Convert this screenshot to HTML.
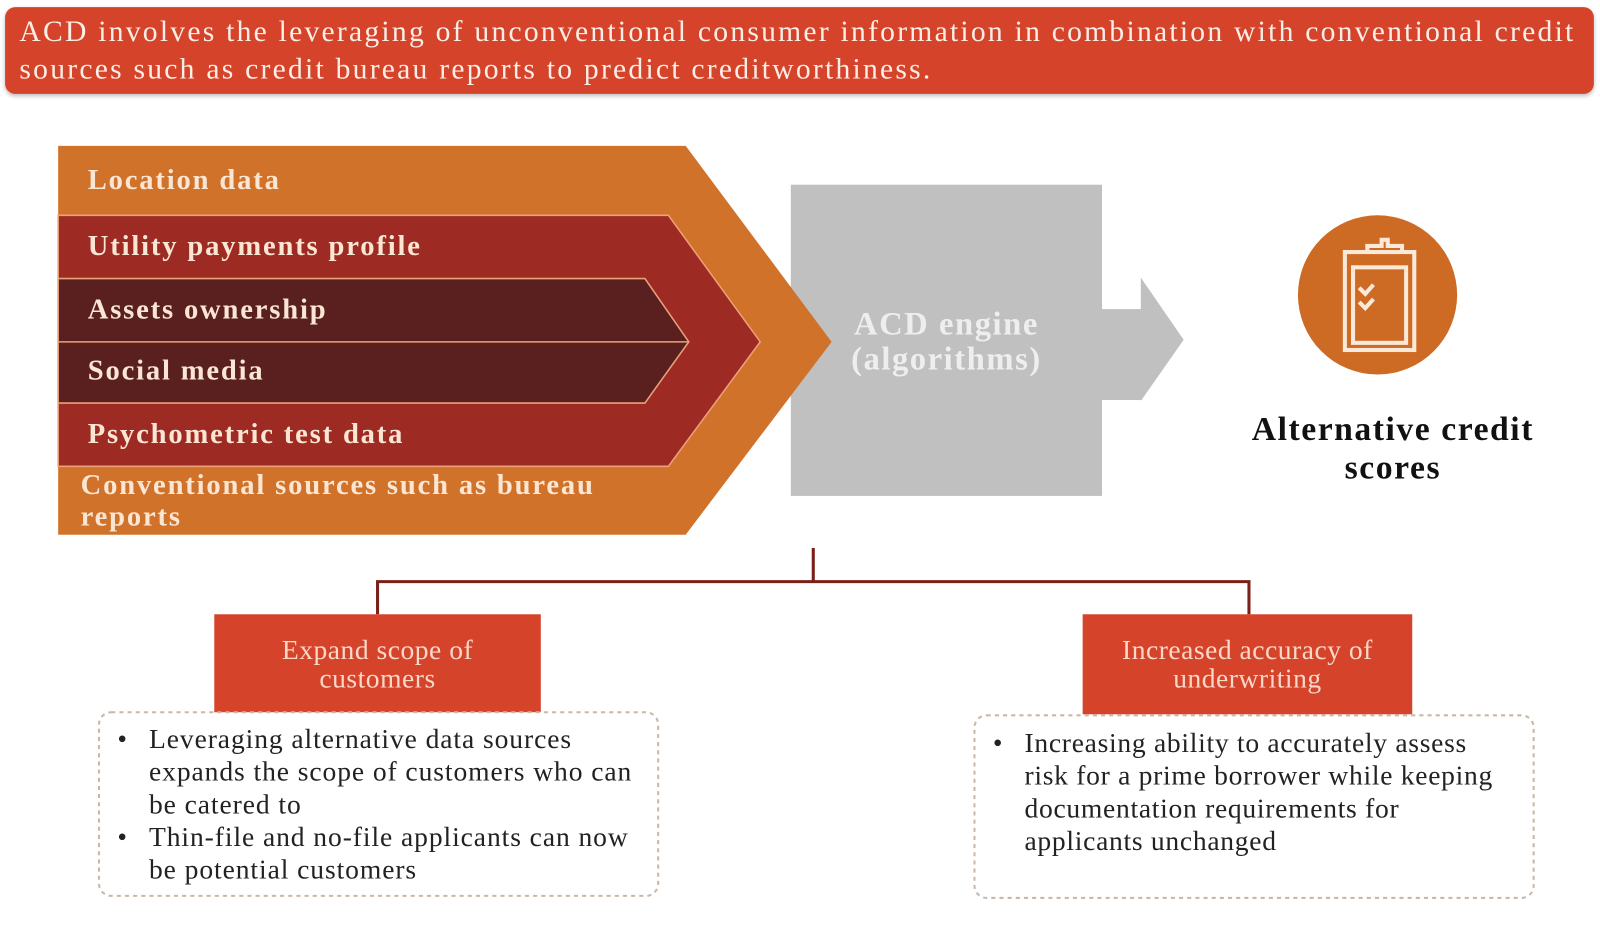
<!DOCTYPE html>
<html><head><meta charset="utf-8"><style>
body{margin:0;width:1600px;height:928px;background:#fff;position:relative;overflow:hidden;font-family:"Liberation Serif",serif}
#w{position:absolute;left:0;top:0;width:1568px;height:910px;transform:scale(1.0204);transform-origin:0 0}
.a{position:absolute}
.c{color:#fbe6d4;font-size:28px;font-weight:bold;letter-spacing:1.8px;white-space:nowrap}
</style></head><body><div id="w">
<div class="a" style="left:5px;top:7px;width:1557px;height:85px;background:#d5432a;border-radius:10px;box-shadow:0 2px 4px #bbb"></div>
<div class="a" style="left:19px;top:13px;width:1540px;color:#fbeee6;font-size:29px;letter-spacing:2.2px;line-height:37px;white-space:nowrap">ACD involves the leveraging of unconventional consumer information in combination with conventional credit<br>sources such as credit bureau reports to predict creditworthiness.</div>
<svg class="a" style="left:0;top:0" width="1568" height="910">
<rect x="775" y="181" width="305" height="305" fill="#c0c0c0"/>
<polygon points="1080,303 1118,303 1118,272 1160,333 1118,393 1118,392 1080,392" fill="#c0c0c0"/>
<polygon points="57,143 672,143 815,335 672,524 57,524" fill="#d1722a"/>
<polygon points="57,211 655,211 745,335 655,457 57,457" fill="#9e2a24" stroke="#e9a27a" stroke-width="1.5"/>
<polygon points="57,273 632,273 675,335 632,395 57,395" fill="#5a2020" stroke="#e9a27a" stroke-width="1.5"/>
<line x1="57" y1="335" x2="675" y2="335" stroke="#e9a27a" stroke-width="1.5"/>
<circle cx="1350" cy="289" r="78" fill="#cd6a24"/>
<g fill="none" stroke="#fbe8d8" stroke-width="4">
<rect x="1318" y="247" width="68" height="96"/>
<rect x="1326" y="262" width="52" height="74"/>
<path d="M1340,247 v-6 h14 v-6 h6 v6 h14 v6"/>
<path d="M1332,282 l6,6 l8,-9 M1332,296 l6,6 l8,-9"/>
</g>
<path d="M797,537 V570 M370,602 V570 H1224 V602" fill="none" stroke="#7a2019" stroke-width="3"/>
<rect x="210" y="602" width="320" height="96" fill="#d5432a"/>
<rect x="1061" y="602" width="323" height="98" fill="#d5432a"/>
<rect x="97" y="698" width="548" height="180" rx="12" fill="none" stroke="#c9b8a8" stroke-width="2" stroke-dasharray="4,4"/>
<rect x="955" y="701" width="548" height="179" rx="12" fill="none" stroke="#c9b8a8" stroke-width="2" stroke-dasharray="4,4"/>
</svg>
<div class="a c" style="left:86px;top:161px">Location data</div>
<div class="a c" style="left:86px;top:226px">Utility payments profile</div>
<div class="a c" style="left:86px;top:288px">Assets ownership</div>
<div class="a c" style="left:86px;top:348px">Social media</div>
<div class="a c" style="left:86px;top:410px">Psychometric test data</div>
<div class="a c" style="left:79px;top:460px;line-height:31px">Conventional sources such as bureau<br>reports</div>
<div class="a" style="left:775px;top:300px;width:305px;text-align:center;color:#eeeeee;font-size:32px;letter-spacing:1.5px;font-weight:bold;line-height:34px">ACD engine<br>(algorithms)</div>
<div class="a" style="left:1180px;top:402px;width:370px;text-align:center;color:#111;font-size:33px;letter-spacing:1.5px;font-weight:bold;line-height:38px">Alternative credit<br>scores</div>
<div class="a" style="left:210px;top:623px;width:320px;text-align:center;color:#fbd8c8;font-size:27px;letter-spacing:0.5px;line-height:28px">Expand scope of<br>customers</div>
<div class="a" style="left:1061px;top:623px;width:323px;text-align:center;color:#fbd8c8;font-size:27px;letter-spacing:0.5px;line-height:28px">Increased accuracy of<br>underwriting</div>
<div class="a" style="left:115px;top:708px;width:540px;color:#222;font-size:27px;letter-spacing:0.9px;line-height:32px;white-space:nowrap">
<div style="position:relative;padding-left:31px"><span style="position:absolute;left:0">•</span>Leveraging alternative data sources<br>expands the scope of customers who can<br>be catered to</div>
<div style="position:relative;padding-left:31px"><span style="position:absolute;left:0">•</span>Thin-file and no-file applicants can now<br>be potential customers</div></div>
<div class="a" style="left:973px;top:712px;width:540px;color:#222;font-size:27px;letter-spacing:0.7px;line-height:32px;white-space:nowrap">
<div style="position:relative;padding-left:31px"><span style="position:absolute;left:0">•</span>Increasing ability to accurately assess<br>risk for a prime borrower while keeping<br>documentation requirements for<br>applicants unchanged</div></div>
</div></body></html>
